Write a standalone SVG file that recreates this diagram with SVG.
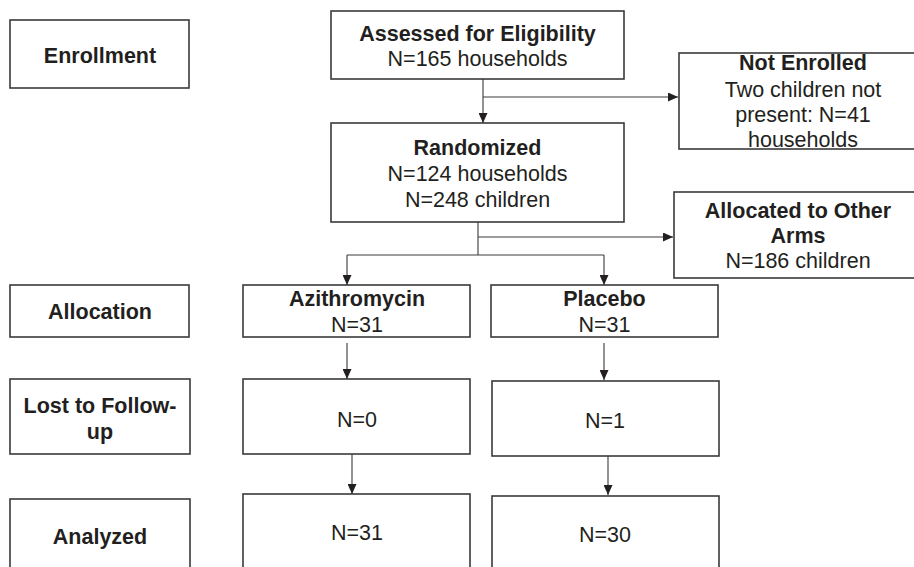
<svg xmlns="http://www.w3.org/2000/svg" width="914" height="567" viewBox="0 0 914 567">
<defs>
<style>
.box{fill:#fff;stroke:#3a3a3a;stroke-width:1.6}
.t{font-family:"Liberation Sans",Arial,sans-serif;font-size:21.5px;fill:#231f20;text-anchor:middle}
.b{font-weight:bold}
.c{fill:none;stroke:#3a3a3a;stroke-width:1.1}
</style>
<marker id="ah" markerUnits="userSpaceOnUse" markerWidth="10" markerHeight="9" refX="10" refY="4.5" orient="auto">
<path d="M0,0 L10,4.5 L0,9 z" fill="#231f20"/>
</marker>
</defs>
<rect width="914" height="567" fill="#fff"/>
<g id="connectors">
<path class="c" d="M483,79 V123" marker-end="url(#ah)"/>
<path class="c" d="M483,97 H678" marker-end="url(#ah)"/>
<path class="c" d="M478,222 V255 M347,255 H604"/>
<path class="c" d="M478,237 H673" marker-end="url(#ah)"/>
<path class="c" d="M347,255 V285" marker-end="url(#ah)"/>
<path class="c" d="M604,255 V285" marker-end="url(#ah)"/>
<path class="c" d="M347,343 V379" marker-end="url(#ah)"/>
<path class="c" d="M604,343 V380" marker-end="url(#ah)"/>
<path class="c" d="M352,454 V494" marker-end="url(#ah)"/>
<path class="c" d="M608,456 V495" marker-end="url(#ah)"/>
</g>
<g id="enrollment"><rect class="box" x="10" y="20" width="179" height="68"/><text class="t b" x="100" y="63">Enrollment</text></g>
<g id="assessed"><rect class="box" x="331" y="11" width="293" height="68"/><text class="t b" x="477.5" y="41">Assessed for Eligibility</text><text class="t" x="477.5" y="66">N=165 households</text></g>
<g id="not-enrolled"><rect class="box" x="679" y="53" width="260" height="96"/><text class="t b" x="803" y="70">Not Enrolled</text><text class="t" x="803" y="97">Two children not</text><text class="t" x="803" y="122">present: N=41</text><text class="t" x="803" y="147">households</text></g>
<g id="randomized"><rect class="box" x="331" y="123" width="293" height="99"/><text class="t b" x="477.5" y="155">Randomized</text><text class="t" x="477.5" y="181">N=124 households</text><text class="t" x="477.5" y="207">N=248 children</text></g>
<g id="other-arms"><rect class="box" x="674" y="192" width="260" height="86"/><text class="t b" x="798" y="218">Allocated to Other</text><text class="t b" x="798" y="243">Arms</text><text class="t" x="798" y="268">N=186 children</text></g>
<g id="allocation"><rect class="box" x="10" y="285" width="179" height="52"/><text class="t b" x="100" y="319">Allocation</text></g>
<g id="azithromycin"><rect class="box" x="243" y="285" width="227" height="52"/><text class="t b" x="357" y="306">Azithromycin</text><text class="t" x="357" y="332">N=31</text></g>
<g id="placebo"><rect class="box" x="491" y="285" width="227" height="52"/><text class="t b" x="604.5" y="306">Placebo</text><text class="t" x="604.5" y="332">N=31</text></g>
<g id="lost"><rect class="box" x="10" y="379" width="180" height="75"/><text class="t b" x="100" y="413">Lost to Follow-</text><text class="t b" x="100" y="439">up</text></g>
<g id="lost-azi"><rect class="box" x="243" y="379" width="227" height="75"/><text class="t" x="357" y="427">N=0</text></g>
<g id="lost-pla"><rect class="box" x="492" y="381" width="227" height="75"/><text class="t" x="605" y="428">N=1</text></g>
<g id="analyzed"><rect class="box" x="10" y="499" width="180" height="100"/><text class="t b" x="100" y="544">Analyzed</text></g>
<g id="analyzed-azi"><rect class="box" x="243" y="494" width="227" height="100"/><text class="t" x="357" y="540">N=31</text></g>
<g id="analyzed-pla"><rect class="box" x="492" y="496" width="227" height="100"/><text class="t" x="605" y="542">N=30</text></g>
</svg>
